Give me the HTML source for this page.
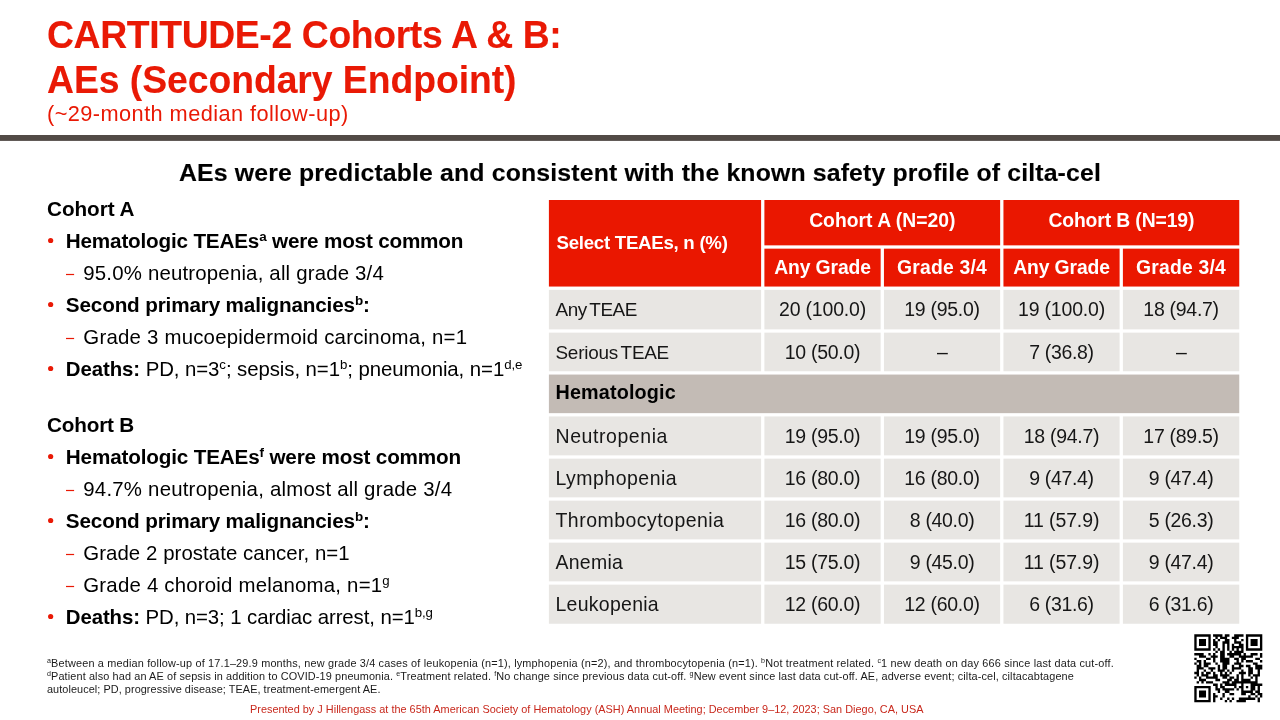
<!DOCTYPE html>
<html lang="en">
<head>
<meta charset="utf-8">
<title>CARTITUDE-2 Cohorts A &amp; B: AEs (Secondary Endpoint)</title>
<style>
html,body{margin:0;padding:0;background:#fff;}
body{width:1280px;height:720px;position:relative;overflow:hidden;font-family:"Liberation Sans", sans-serif;color:#000;}
.l{position:absolute;white-space:nowrap;margin:0;padding:0;}
.g{position:absolute;left:0;top:0;}
.l span{display:inline-block;white-space:nowrap;}
sup{font-size:65%;line-height:0;vertical-align:baseline;position:relative;top:-0.5em;}
b{font-weight:700;}
</style>
</head>
<body>
<svg class="g" width="1280" height="720" viewBox="0 0 1280 720">
<rect x="0" y="135" width="1280" height="5.9" fill="#524a46"/>
<rect x="548.90" y="200.00" width="212.20" height="86.55" fill="#ea1700"/>
<rect x="764.40" y="200.00" width="235.75" height="45.35" fill="#ea1700"/>
<rect x="1003.45" y="200.00" width="235.80" height="45.35" fill="#ea1700"/>
<rect x="764.40" y="248.65" width="116.25" height="37.90" fill="#ea1700"/>
<rect x="883.95" y="248.65" width="116.20" height="37.90" fill="#ea1700"/>
<rect x="1003.45" y="248.65" width="116.15" height="37.90" fill="#ea1700"/>
<rect x="1122.90" y="248.65" width="116.35" height="37.90" fill="#ea1700"/>
<rect x="548.90" y="289.85" width="212.20" height="39.50" fill="#e8e6e3"/>
<rect x="764.40" y="289.85" width="116.25" height="39.50" fill="#e8e6e3"/>
<rect x="883.95" y="289.85" width="116.20" height="39.50" fill="#e8e6e3"/>
<rect x="1003.45" y="289.85" width="116.15" height="39.50" fill="#e8e6e3"/>
<rect x="1122.90" y="289.85" width="116.35" height="39.50" fill="#e8e6e3"/>
<rect x="548.90" y="332.65" width="212.20" height="38.60" fill="#e8e6e3"/>
<rect x="764.40" y="332.65" width="116.25" height="38.60" fill="#e8e6e3"/>
<rect x="883.95" y="332.65" width="116.20" height="38.60" fill="#e8e6e3"/>
<rect x="1003.45" y="332.65" width="116.15" height="38.60" fill="#e8e6e3"/>
<rect x="1122.90" y="332.65" width="116.35" height="38.60" fill="#e8e6e3"/>
<rect x="548.90" y="374.55" width="690.35" height="38.60" fill="#c3bbb5"/>
<rect x="548.90" y="416.45" width="212.20" height="38.90" fill="#e8e6e3"/>
<rect x="764.40" y="416.45" width="116.25" height="38.90" fill="#e8e6e3"/>
<rect x="883.95" y="416.45" width="116.20" height="38.90" fill="#e8e6e3"/>
<rect x="1003.45" y="416.45" width="116.15" height="38.90" fill="#e8e6e3"/>
<rect x="1122.90" y="416.45" width="116.35" height="38.90" fill="#e8e6e3"/>
<rect x="548.90" y="458.65" width="212.20" height="38.70" fill="#e8e6e3"/>
<rect x="764.40" y="458.65" width="116.25" height="38.70" fill="#e8e6e3"/>
<rect x="883.95" y="458.65" width="116.20" height="38.70" fill="#e8e6e3"/>
<rect x="1003.45" y="458.65" width="116.15" height="38.70" fill="#e8e6e3"/>
<rect x="1122.90" y="458.65" width="116.35" height="38.70" fill="#e8e6e3"/>
<rect x="548.90" y="500.65" width="212.20" height="38.70" fill="#e8e6e3"/>
<rect x="764.40" y="500.65" width="116.25" height="38.70" fill="#e8e6e3"/>
<rect x="883.95" y="500.65" width="116.20" height="38.70" fill="#e8e6e3"/>
<rect x="1003.45" y="500.65" width="116.15" height="38.70" fill="#e8e6e3"/>
<rect x="1122.90" y="500.65" width="116.35" height="38.70" fill="#e8e6e3"/>
<rect x="548.90" y="542.65" width="212.20" height="38.70" fill="#e8e6e3"/>
<rect x="764.40" y="542.65" width="116.25" height="38.70" fill="#e8e6e3"/>
<rect x="883.95" y="542.65" width="116.20" height="38.70" fill="#e8e6e3"/>
<rect x="1003.45" y="542.65" width="116.15" height="38.70" fill="#e8e6e3"/>
<rect x="1122.90" y="542.65" width="116.35" height="38.70" fill="#e8e6e3"/>
<rect x="548.90" y="584.65" width="212.20" height="39.10" fill="#e8e6e3"/>
<rect x="764.40" y="584.65" width="116.25" height="39.10" fill="#e8e6e3"/>
<rect x="883.95" y="584.65" width="116.20" height="39.10" fill="#e8e6e3"/>
<rect x="1003.45" y="584.65" width="116.15" height="39.10" fill="#e8e6e3"/>
<rect x="1122.90" y="584.65" width="116.35" height="39.10" fill="#e8e6e3"/>
<circle cx="50.65" cy="240.50" r="2.6" fill="#e91905"/>
<circle cx="50.65" cy="304.50" r="2.6" fill="#e91905"/>
<circle cx="50.65" cy="368.50" r="2.6" fill="#e91905"/>
<circle cx="50.65" cy="456.50" r="2.6" fill="#e91905"/>
<circle cx="50.65" cy="520.50" r="2.6" fill="#e91905"/>
<circle cx="50.65" cy="616.50" r="2.6" fill="#e91905"/>
<rect x="66.00" y="273.90" width="8.1" height="1.2" fill="#e91905"/>
<rect x="66.00" y="337.90" width="8.1" height="1.2" fill="#e91905"/>
<rect x="66.00" y="489.90" width="8.1" height="1.2" fill="#e91905"/>
<rect x="66.00" y="553.90" width="8.1" height="1.2" fill="#e91905"/>
<rect x="66.00" y="585.90" width="8.1" height="1.2" fill="#e91905"/>
<path fill="#000" transform="translate(1194.30 634.30) scale(2.3448)" d="M0 0h7v1h-7zM8 0h4v1h-4zM13 0h2v1h-2zM17 0h4v1h-4zM22 0h7v1h-7zM0 1h1v1h-1zM6 1h1v1h-1zM9 1h1v1h-1zM11 1h3v1h-3zM16 1h3v1h-3zM22 1h1v1h-1zM28 1h1v1h-1zM0 2h1v1h-1zM2 2h3v1h-3zM6 2h1v1h-1zM8 2h1v1h-1zM10 2h1v1h-1zM13 2h2v1h-2zM17 2h1v1h-1zM20 2h1v1h-1zM22 2h1v1h-1zM24 2h3v1h-3zM28 2h1v1h-1zM0 3h1v1h-1zM2 3h3v1h-3zM6 3h1v1h-1zM8 3h2v1h-2zM12 3h3v1h-3zM17 3h3v1h-3zM22 3h1v1h-1zM24 3h3v1h-3zM28 3h1v1h-1zM0 4h1v1h-1zM2 4h3v1h-3zM6 4h1v1h-1zM8 4h2v1h-2zM12 4h1v1h-1zM14 4h1v1h-1zM16 4h1v1h-1zM19 4h2v1h-2zM22 4h1v1h-1zM24 4h3v1h-3zM28 4h1v1h-1zM0 5h1v1h-1zM6 5h1v1h-1zM9 5h1v1h-1zM12 5h1v1h-1zM14 5h1v1h-1zM16 5h5v1h-5zM22 5h1v1h-1zM28 5h1v1h-1zM0 6h7v1h-7zM8 6h1v1h-1zM10 6h1v1h-1zM12 6h1v1h-1zM14 6h1v1h-1zM16 6h1v1h-1zM18 6h1v1h-1zM20 6h1v1h-1zM22 6h7v1h-7zM9 7h1v1h-1zM11 7h2v1h-2zM15 7h1v1h-1zM17 7h4v1h-4zM0 8h4v1h-4zM6 8h1v1h-1zM8 8h1v1h-1zM11 8h2v1h-2zM14 8h6v1h-6zM21 8h1v1h-1zM24 8h3v1h-3zM28 8h1v1h-1zM2 9h3v1h-3zM7 9h3v1h-3zM11 9h2v1h-2zM15 9h2v1h-2zM19 9h6v1h-6zM28 9h1v1h-1zM0 10h1v1h-1zM5 10h2v1h-2zM8 10h1v1h-1zM11 10h4v1h-4zM17 10h2v1h-2zM20 10h2v1h-2zM26 10h2v1h-2zM1 11h2v1h-2zM4 11h1v1h-1zM8 11h1v1h-1zM11 11h4v1h-4zM18 11h1v1h-1zM20 11h1v1h-1zM22 11h3v1h-3zM28 11h1v1h-1zM0 12h1v1h-1zM2 12h1v1h-1zM4 12h3v1h-3zM9 12h1v1h-1zM12 12h3v1h-3zM17 12h3v1h-3zM25 12h2v1h-2zM1 13h2v1h-2zM4 13h2v1h-2zM10 13h1v1h-1zM12 13h2v1h-2zM16 13h1v1h-1zM19 13h2v1h-2zM22 13h2v1h-2zM26 13h3v1h-3zM1 14h3v1h-3zM6 14h3v1h-3zM10 14h1v1h-1zM12 14h2v1h-2zM16 14h4v1h-4zM23 14h2v1h-2zM26 14h3v1h-3zM1 15h1v1h-1zM4 15h1v1h-1zM7 15h1v1h-1zM10 15h3v1h-3zM14 15h1v1h-1zM16 15h1v1h-1zM20 15h1v1h-1zM23 15h2v1h-2zM27 15h1v1h-1zM0 16h2v1h-2zM3 16h1v1h-1zM5 16h2v1h-2zM8 16h1v1h-1zM11 16h1v1h-1zM13 16h1v1h-1zM15 16h1v1h-1zM19 16h3v1h-3zM23 16h2v1h-2zM27 16h1v1h-1zM1 17h1v1h-1zM3 17h3v1h-3zM8 17h2v1h-2zM11 17h4v1h-4zM18 17h1v1h-1zM20 17h1v1h-1zM23 17h1v1h-1zM25 17h3v1h-3zM0 18h1v1h-1zM2 18h1v1h-1zM5 18h5v1h-5zM12 18h2v1h-2zM15 18h2v1h-2zM18 18h1v1h-1zM20 18h1v1h-1zM24 18h1v1h-1zM26 18h1v1h-1zM2 19h3v1h-3zM9 19h2v1h-2zM14 19h2v1h-2zM17 19h2v1h-2zM20 19h4v1h-4zM26 19h1v1h-1zM1 20h1v1h-1zM3 20h1v1h-1zM5 20h3v1h-3zM12 20h3v1h-3zM16 20h11v1h-11zM8 21h2v1h-2zM11 21h1v1h-1zM13 21h5v1h-5zM20 21h1v1h-1zM24 21h5v1h-5zM0 22h7v1h-7zM9 22h1v1h-1zM11 22h2v1h-2zM17 22h1v1h-1zM19 22h2v1h-2zM22 22h1v1h-1zM24 22h2v1h-2zM27 22h1v1h-1zM0 23h1v1h-1zM6 23h1v1h-1zM9 23h2v1h-2zM12 23h5v1h-5zM18 23h1v1h-1zM20 23h1v1h-1zM24 23h2v1h-2zM27 23h1v1h-1zM0 24h1v1h-1zM2 24h3v1h-3zM6 24h1v1h-1zM10 24h1v1h-1zM13 24h2v1h-2zM20 24h5v1h-5zM26 24h2v1h-2zM0 25h1v1h-1zM2 25h3v1h-3zM6 25h1v1h-1zM8 25h1v1h-1zM12 25h1v1h-1zM15 25h2v1h-2zM20 25h2v1h-2zM24 25h2v1h-2zM27 25h2v1h-2zM0 26h1v1h-1zM2 26h3v1h-3zM6 26h1v1h-1zM8 26h2v1h-2zM12 26h1v1h-1zM23 26h1v1h-1zM26 26h1v1h-1zM28 26h1v1h-1zM0 27h1v1h-1zM6 27h1v1h-1zM8 27h1v1h-1zM11 27h1v1h-1zM14 27h1v1h-1zM16 27h1v1h-1zM19 27h7v1h-7zM27 27h1v1h-1zM0 28h7v1h-7zM8 28h1v1h-1zM13 28h1v1h-1zM15 28h1v1h-1zM18 28h4v1h-4zM27 28h1v1h-1z"/>
</svg>
<div class="l" id="t1" style="top:11.02px;font-size:37.33px;line-height:49px;font-weight:700;color:#e91905;letter-spacing:-0.367px;-webkit-text-stroke:0.10px #e91905;transform:scaleY(1.035);transform-origin:0 36.98px;left:47.00px;"><span>CARTITUDE-2 Cohorts A &amp; B:</span></div>
<div class="l" id="t2" style="top:56.02px;font-size:37.33px;line-height:49px;font-weight:700;color:#e91905;letter-spacing:-0.054px;-webkit-text-stroke:0.10px #e91905;transform:scaleY(1.035);transform-origin:0 36.98px;left:47.00px;"><span>AEs (Secondary Endpoint)</span></div>
<div class="l" id="t3" style="top:100.01px;font-size:21.76px;line-height:28px;color:#e91905;letter-spacing:0.432px;left:47.00px;"><span>(~29-month median follow-up)</span></div>
<div class="l" id="h1" style="top:157.02px;font-size:24.84px;line-height:32px;font-weight:700;letter-spacing:0.146px;-webkit-text-stroke:0.13px #000;left:179.00px;"><span>AEs were predictable and consistent with the known safety profile of cilta-cel</span></div>
<div class="l" id="ca" style="top:195.00px;font-size:20.70px;line-height:27px;font-weight:700;letter-spacing:-0.037px;left:47.00px;"><span>Cohort A</span></div>
<div class="l" id="a1" style="top:227.00px;font-size:20.70px;line-height:27px;font-weight:700;letter-spacing:-0.191px;left:65.80px;"><span>Hematologic TEAEs<sup>a</sup> were most common</span></div>
<div class="l" id="a2" style="top:260.01px;font-size:20.40px;line-height:27px;letter-spacing:0.186px;left:83.30px;"><span>95.0% neutropenia, all grade 3/4</span></div>
<div class="l" id="a3" style="top:291.00px;font-size:20.70px;line-height:27px;font-weight:700;letter-spacing:-0.152px;left:65.80px;"><span>Second primary malignancies<sup>b</sup>:</span></div>
<div class="l" id="a4" style="top:324.01px;font-size:20.40px;line-height:27px;letter-spacing:0.223px;left:83.30px;"><span>Grade 3 mucoepidermoid carcinoma, n=1</span></div>
<div class="l" id="a5" style="top:356.01px;font-size:20.40px;line-height:27px;letter-spacing:-0.078px;left:65.80px;"><span><b>Deaths:</b> PD, n=3<sup>c</sup>; sepsis, n=1<sup>b</sup>; pneumonia, n=1<sup>d,e</sup></span></div>
<div class="l" id="cb" style="top:411.00px;font-size:20.70px;line-height:27px;font-weight:700;letter-spacing:-0.178px;left:47.00px;"><span>Cohort B</span></div>
<div class="l" id="b1" style="top:443.00px;font-size:20.70px;line-height:27px;font-weight:700;letter-spacing:-0.168px;left:65.80px;"><span>Hematologic TEAEs<sup>f</sup> were most common</span></div>
<div class="l" id="b2" style="top:476.01px;font-size:20.40px;line-height:27px;letter-spacing:0.216px;left:83.30px;"><span>94.7% neutropenia, almost all grade 3/4</span></div>
<div class="l" id="b3" style="top:507.00px;font-size:20.70px;line-height:27px;font-weight:700;letter-spacing:-0.152px;left:65.80px;"><span>Second primary malignancies<sup>b</sup>:</span></div>
<div class="l" id="b4" style="top:540.01px;font-size:20.40px;line-height:27px;letter-spacing:0.061px;left:83.30px;"><span>Grade 2 prostate cancer, n=1</span></div>
<div class="l" id="b5" style="top:572.01px;font-size:20.40px;line-height:27px;letter-spacing:0.207px;left:83.30px;"><span>Grade 4 choroid melanoma, n=1<sup>g</sup></span></div>
<div class="l" id="b6" style="top:604.01px;font-size:20.40px;line-height:27px;letter-spacing:-0.093px;left:65.80px;"><span><b>Deaths:</b> PD, n=3; 1 cardiac arrest, n=1<sup>b,g</sup></span></div>
<div class="l" id="f1" style="top:656.01px;font-size:10.88px;line-height:14px;color:#1a1a1a;letter-spacing:0.173px;left:47.00px;"><span><sup>a</sup>Between a median follow-up of 17.1–29.9 months, new grade 3/4 cases of leukopenia (n=1), lymphopenia (n=2), and thrombocytopenia (n=1). <sup>b</sup>Not treatment related. <sup>c</sup>1 new death on day 666 since last data cut-off.</span></div>
<div class="l" id="f2" style="top:669.01px;font-size:10.88px;line-height:14px;color:#1a1a1a;letter-spacing:0.125px;left:47.00px;"><span><sup>d</sup>Patient also had an AE of sepsis in addition to COVID-19 pneumonia. <sup>e</sup>Treatment related. <sup>f</sup>No change since previous data cut-off. <sup>g</sup>New event since last data cut-off. AE, adverse event; cilta-cel, ciltacabtagene</span></div>
<div class="l" id="f3" style="top:682.01px;font-size:10.88px;line-height:14px;color:#1a1a1a;letter-spacing:0.066px;left:47.00px;"><span>autoleucel; PD, progressive disease; TEAE, treatment-emergent AE.</span></div>
<div class="l" id="p1" style="top:702.01px;font-size:10.88px;line-height:14px;color:#c8281c;letter-spacing:0.019px;left:250.00px;"><span>Presented by J Hillengass at the 65th American Society of Hematology (ASH) Annual Meeting; December 9–12, 2023; San Diego, CA, USA</span></div>
<div class="l" id="th0" style="top:231.01px;font-size:18.67px;line-height:24px;font-weight:700;color:#fff;letter-spacing:-0.270px;left:556.50px;"><span>Select TEAEs, n (%)</span></div>
<div class="l" id="thA" style="top:208.01px;font-size:19.32px;line-height:25px;font-weight:700;color:#fff;letter-spacing:0.006px;left:882.27px;width:400px;margin-left:-200px;text-align:center;"><span>Cohort A (N=20)</span></div>
<div class="l" id="thB" style="top:208.01px;font-size:19.32px;line-height:25px;font-weight:700;color:#fff;letter-spacing:-0.111px;left:1121.35px;width:400px;margin-left:-200px;text-align:center;"><span>Cohort B (N=19)</span></div>
<div class="l" id="ths0" style="top:255.01px;font-size:19.32px;line-height:25px;font-weight:700;color:#fff;letter-spacing:-0.111px;left:822.52px;width:400px;margin-left:-200px;text-align:center;"><span>Any Grade</span></div>
<div class="l" id="ths1" style="top:255.01px;font-size:19.32px;line-height:25px;font-weight:700;color:#fff;letter-spacing:0.215px;left:942.05px;width:400px;margin-left:-200px;text-align:center;"><span>Grade 3/4</span></div>
<div class="l" id="ths2" style="top:255.01px;font-size:19.32px;line-height:25px;font-weight:700;color:#fff;letter-spacing:-0.111px;left:1061.53px;width:400px;margin-left:-200px;text-align:center;"><span>Any Grade</span></div>
<div class="l" id="ths3" style="top:255.01px;font-size:19.32px;line-height:25px;font-weight:700;color:#fff;letter-spacing:0.215px;left:1181.08px;width:400px;margin-left:-200px;text-align:center;"><span>Grade 3/4</span></div>
<div class="l" id="r0n" style="top:297.01px;font-size:18.91px;line-height:25px;color:#161616;letter-spacing:-0.422px;word-spacing:-2.0px;left:555.50px;"><span>Any TEAE</span></div>
<div class="l" id="r0v0" style="top:297.00px;font-size:19.48px;line-height:25px;color:#161616;letter-spacing:-0.177px;left:822.52px;width:400px;margin-left:-200px;text-align:center;"><span>20 (100.0)</span></div>
<div class="l" id="r0v1" style="top:297.00px;font-size:19.48px;line-height:25px;color:#161616;letter-spacing:-0.271px;left:942.05px;width:400px;margin-left:-200px;text-align:center;"><span>19 (95.0)</span></div>
<div class="l" id="r0v2" style="top:297.00px;font-size:19.48px;line-height:25px;color:#161616;letter-spacing:-0.177px;left:1061.53px;width:400px;margin-left:-200px;text-align:center;"><span>19 (100.0)</span></div>
<div class="l" id="r0v3" style="top:297.00px;font-size:19.48px;line-height:25px;color:#161616;letter-spacing:-0.271px;left:1181.08px;width:400px;margin-left:-200px;text-align:center;"><span>18 (94.7)</span></div>
<div class="l" id="r1n" style="top:340.01px;font-size:18.91px;line-height:25px;color:#161616;letter-spacing:-0.242px;word-spacing:-2.0px;left:555.50px;"><span>Serious TEAE</span></div>
<div class="l" id="r1v0" style="top:340.00px;font-size:19.48px;line-height:25px;color:#161616;letter-spacing:-0.271px;left:822.52px;width:400px;margin-left:-200px;text-align:center;"><span>10 (50.0)</span></div>
<div class="l" id="r1v1" style="top:340.00px;font-size:19.48px;line-height:25px;color:#161616;letter-spacing:-0.828px;left:942.05px;width:400px;margin-left:-200px;text-align:center;"><span>–</span></div>
<div class="l" id="r1v2" style="top:340.00px;font-size:19.48px;line-height:25px;color:#161616;letter-spacing:-0.326px;left:1061.53px;width:400px;margin-left:-200px;text-align:center;"><span>7 (36.8)</span></div>
<div class="l" id="r1v3" style="top:340.00px;font-size:19.48px;line-height:25px;color:#161616;letter-spacing:-0.828px;left:1181.08px;width:400px;margin-left:-200px;text-align:center;"><span>–</span></div>
<div class="l" id="r2n" style="top:379.01px;font-size:19.77px;line-height:26px;font-weight:700;letter-spacing:0.159px;left:555.50px;"><span>Hematologic</span></div>
<div class="l" id="r3n" style="top:424.00px;font-size:19.48px;line-height:25px;color:#161616;letter-spacing:0.580px;left:555.50px;"><span>Neutropenia</span></div>
<div class="l" id="r3v0" style="top:424.00px;font-size:19.48px;line-height:25px;color:#161616;letter-spacing:-0.271px;left:822.52px;width:400px;margin-left:-200px;text-align:center;"><span>19 (95.0)</span></div>
<div class="l" id="r3v1" style="top:424.00px;font-size:19.48px;line-height:25px;color:#161616;letter-spacing:-0.271px;left:942.05px;width:400px;margin-left:-200px;text-align:center;"><span>19 (95.0)</span></div>
<div class="l" id="r3v2" style="top:424.00px;font-size:19.48px;line-height:25px;color:#161616;letter-spacing:-0.271px;left:1061.53px;width:400px;margin-left:-200px;text-align:center;"><span>18 (94.7)</span></div>
<div class="l" id="r3v3" style="top:424.00px;font-size:19.48px;line-height:25px;color:#161616;letter-spacing:-0.271px;left:1181.08px;width:400px;margin-left:-200px;text-align:center;"><span>17 (89.5)</span></div>
<div class="l" id="r4n" style="top:466.00px;font-size:19.48px;line-height:25px;color:#161616;letter-spacing:0.496px;left:555.50px;"><span>Lymphopenia</span></div>
<div class="l" id="r4v0" style="top:466.00px;font-size:19.48px;line-height:25px;color:#161616;letter-spacing:-0.271px;left:822.52px;width:400px;margin-left:-200px;text-align:center;"><span>16 (80.0)</span></div>
<div class="l" id="r4v1" style="top:466.00px;font-size:19.48px;line-height:25px;color:#161616;letter-spacing:-0.271px;left:942.05px;width:400px;margin-left:-200px;text-align:center;"><span>16 (80.0)</span></div>
<div class="l" id="r4v2" style="top:466.00px;font-size:19.48px;line-height:25px;color:#161616;letter-spacing:-0.326px;left:1061.53px;width:400px;margin-left:-200px;text-align:center;"><span>9 (47.4)</span></div>
<div class="l" id="r4v3" style="top:466.00px;font-size:19.48px;line-height:25px;color:#161616;letter-spacing:-0.326px;left:1181.08px;width:400px;margin-left:-200px;text-align:center;"><span>9 (47.4)</span></div>
<div class="l" id="r5n" style="top:508.00px;font-size:19.48px;line-height:25px;color:#161616;letter-spacing:0.479px;left:555.50px;"><span>Thrombocytopenia</span></div>
<div class="l" id="r5v0" style="top:508.00px;font-size:19.48px;line-height:25px;color:#161616;letter-spacing:-0.271px;left:822.52px;width:400px;margin-left:-200px;text-align:center;"><span>16 (80.0)</span></div>
<div class="l" id="r5v1" style="top:508.00px;font-size:19.48px;line-height:25px;color:#161616;letter-spacing:-0.326px;left:942.05px;width:400px;margin-left:-200px;text-align:center;"><span>8 (40.0)</span></div>
<div class="l" id="r5v2" style="top:508.00px;font-size:19.48px;line-height:25px;color:#161616;letter-spacing:-0.109px;left:1061.53px;width:400px;margin-left:-200px;text-align:center;"><span>11 (57.9)</span></div>
<div class="l" id="r5v3" style="top:508.00px;font-size:19.48px;line-height:25px;color:#161616;letter-spacing:-0.326px;left:1181.08px;width:400px;margin-left:-200px;text-align:center;"><span>5 (26.3)</span></div>
<div class="l" id="r6n" style="top:550.00px;font-size:19.48px;line-height:25px;color:#161616;letter-spacing:0.268px;left:555.50px;"><span>Anemia</span></div>
<div class="l" id="r6v0" style="top:550.00px;font-size:19.48px;line-height:25px;color:#161616;letter-spacing:-0.271px;left:822.52px;width:400px;margin-left:-200px;text-align:center;"><span>15 (75.0)</span></div>
<div class="l" id="r6v1" style="top:550.00px;font-size:19.48px;line-height:25px;color:#161616;letter-spacing:-0.326px;left:942.05px;width:400px;margin-left:-200px;text-align:center;"><span>9 (45.0)</span></div>
<div class="l" id="r6v2" style="top:550.00px;font-size:19.48px;line-height:25px;color:#161616;letter-spacing:-0.109px;left:1061.53px;width:400px;margin-left:-200px;text-align:center;"><span>11 (57.9)</span></div>
<div class="l" id="r6v3" style="top:550.00px;font-size:19.48px;line-height:25px;color:#161616;letter-spacing:-0.326px;left:1181.08px;width:400px;margin-left:-200px;text-align:center;"><span>9 (47.4)</span></div>
<div class="l" id="r7n" style="top:592.00px;font-size:19.48px;line-height:25px;color:#161616;letter-spacing:0.278px;left:555.50px;"><span>Leukopenia</span></div>
<div class="l" id="r7v0" style="top:592.00px;font-size:19.48px;line-height:25px;color:#161616;letter-spacing:-0.271px;left:822.52px;width:400px;margin-left:-200px;text-align:center;"><span>12 (60.0)</span></div>
<div class="l" id="r7v1" style="top:592.00px;font-size:19.48px;line-height:25px;color:#161616;letter-spacing:-0.271px;left:942.05px;width:400px;margin-left:-200px;text-align:center;"><span>12 (60.0)</span></div>
<div class="l" id="r7v2" style="top:592.00px;font-size:19.48px;line-height:25px;color:#161616;letter-spacing:-0.326px;left:1061.53px;width:400px;margin-left:-200px;text-align:center;"><span>6 (31.6)</span></div>
<div class="l" id="r7v3" style="top:592.00px;font-size:19.48px;line-height:25px;color:#161616;letter-spacing:-0.326px;left:1181.08px;width:400px;margin-left:-200px;text-align:center;"><span>6 (31.6)</span></div>
</body>
</html>
